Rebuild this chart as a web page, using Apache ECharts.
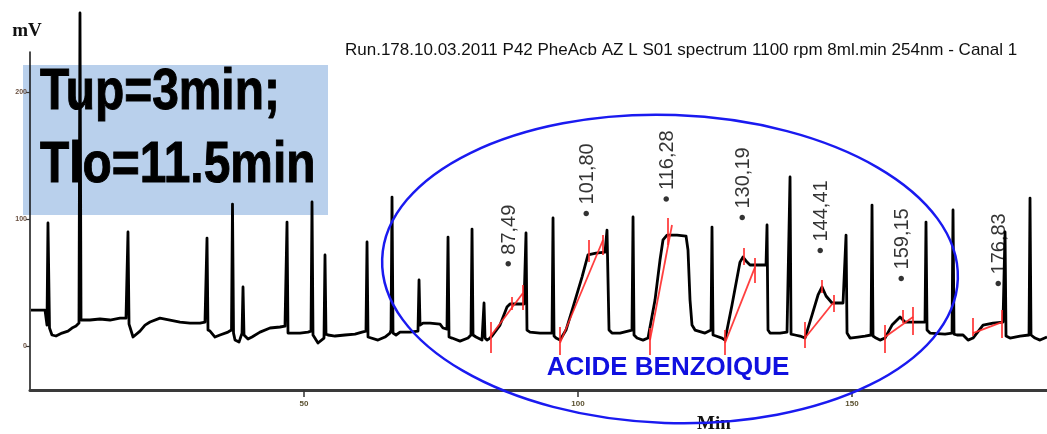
<!DOCTYPE html>
<html>
<head>
<meta charset="utf-8">
<script src="https://cdn.jsdelivr.net/npm/echarts@6/dist/echarts.min.js"></script>
<style>html,body{margin:0;padding:0;background:#fff}#c{width:1047px;height:434px}</style>
</head>
<body>
<div id="c"></div>
<script>
// Chromatogram trace: [time (min), signal (mV)]
const trace = [
[0.18,28.3],[2.74,28.3],[3.10,16.5],[3.28,96.9],[3.56,14.2],[4.01,8.7],[4.74,7.9],[5.84,10.2],[6.93,11.8],[7.66,14.2],[8.39,15.7],[8.94,18.1],
[9.12,262.2],[9.31,20.5],[9.67,22.0],[10.95,20.5],[12.77,21.3],[14.60,20.5],[16.42,22.0],[17.52,22.0],[17.88,89.8],[18.07,17.3],[18.80,7.1],
[20.07,11.8],[20.99,16.5],[21.90,18.9],[23.72,22.0],[25.55,20.5],[27.37,18.9],[29.20,18.1],[31.02,18.1],[31.93,18.9],[32.30,85.0],[32.48,12.6],
[32.85,11.8],[33.76,7.1],[34.67,8.7],[36.13,11.0],[36.77,12.6],[36.95,111.8],[37.14,10.2],[37.41,4.7],[38.14,3.1],[38.69,10.2],[38.87,46.5],[39.05,8.7],
[39.78,5.5],[40.51,7.1],[41.97,11.0],[43.80,14.2],[45.62,15.0],[46.53,15.7],[46.90,97.6],[47.08,10.2],[47.81,10.2],[49.27,10.2],[50.73,11.0],[51.28,11.8],
[51.46,113.4],[51.64,8.7],[52.55,2.4],[53.65,6.3],[53.83,71.7],[54.01,9.4],[54.38,8.7],[55.66,7.9],[57.48,8.7],[59.31,9.4],[60.58,11.0],[61.31,11.8],
[61.50,81.9],[61.68,7.1],[62.04,7.1],[63.50,4.7],[64.78,7.1],[65.69,10.2],[65.88,12.6],[66.06,117.3],[66.24,10.2],[66.79,8.7],[67.52,11.0],[69.34,11.0],
[70.80,11.8],[70.99,52.0],[71.17,16.5],[71.72,18.1],[73.00,18.1],[74.82,17.3],[75.36,14.2],[76.09,13.4],[76.28,85.8],[76.46,7.1],[77.01,6.3],[78.47,3.9],
[79.93,6.3],[80.47,8.7],[80.66,92.1],[80.84,8.7],[81.39,7.1],[82.48,4.7],[82.85,33.9],[83.03,6.3],[83.39,4.7],[83.94,6.3],[84.31,7.9],
[85.77,16.5],[87.04,30.7],[87.59,33.1],[88.87,33.1],[90.15,33.1],[90.33,33.1],[90.51,89.0],[90.69,12.6],[91.24,11.0],[93.07,10.2],[94.53,10.2],[95.26,10.2],
[95.44,100.8],[95.62,7.9],[95.99,6.3],[96.72,4.7],[97.81,12.6],[99.09,30.7],[100.73,54.3],[101.82,71.7],[103.28,73.2],[104.93,74.0],[105.11,74.0],
[105.29,91.3],[105.66,12.6],[106.20,10.2],[107.66,10.2],[109.12,11.8],[109.85,12.6],[110.04,101.6],[110.22,8.7],[110.77,6.3],[111.86,4.7],[112.77,6.3],
[114.05,36.2],[114.96,67.7],[115.51,83.5],[116.24,87.4],[118.07,87.4],[119.71,86.6],[120.07,75.6],[120.44,36.2],[120.80,16.5],[121.35,12.6],[123.18,10.2],
[124.27,12.6],[124.45,93.7],[124.64,8.7],[125.18,7.9],[126.28,6.3],[126.82,4.7],[128.10,32.3],[129.56,66.1],[130.11,70.1],[130.84,66.1],[131.39,63.8],
[133.21,63.8],[134.31,63.8],[134.49,95.3],[134.67,12.6],[135.04,10.2],[136.86,10.2],[138.14,11.0],[138.69,133.1],[138.87,9.4],[139.60,8.7],[140.51,7.9],
[141.42,6.3],[142.70,24.4],[143.80,40.2],[144.53,46.5],[145.26,39.4],[146.35,33.9],[148.36,33.9],[148.72,33.9],[148.91,87.4],[149.09,10.2],[149.64,6.3],
[151.09,7.1],[152.37,7.9],[153.47,8.7],[153.65,111.0],[153.83,7.9],[154.38,6.3],[155.11,4.7],[156.02,6.3],[157.30,16.5],[158.76,22.8],[159.67,18.9],
[161.50,18.9],[163.32,18.9],[163.50,97.6],[163.69,12.6],[164.23,10.2],[166.97,9.4],[168.25,10.2],[168.43,107.1],[168.61,9.4],[169.16,8.7],[170.26,8.7],
[171.17,4.7],[172.08,6.3],[173.91,16.5],[175.73,18.1],[177.55,18.9],[177.74,18.9],[177.92,89.8],[178.10,7.9],[178.83,6.3],[180.66,7.9],[182.30,8.7],
[182.48,116.5],[182.66,8.7],[183.39,6.3],[184.31,4.7],[185.58,7.1]
];

// Integration baselines (red): [[t1,v1],[t2,v2]]
const baselines = [
[[83.94,7.1],[89.96,41.7]],
[[96.72,2.4],[104.56,83.5]],
[[113.14,4.7],[117.15,95.3]],
[[126.82,2.4],[132.30,62.2]],
[[141.42,6.3],[146.53,33.9]],
[[156.02,7.1],[161.13,22.8]],
[[172.08,10.2],[177.37,18.9]]
];
// Integration tick marks (red): [time, vTop, vBottom]
const marks = [
[84.12,18.9,-5.5],[87.96,38.6,28.3],[89.96,48.0,28.3],
[96.72,15.0,-7.1],[102.01,83.5,66.1],[104.56,87.4,71.7],
[113.14,14.2,-7.1],[116.42,100.8,79.5],
[126.82,12.6,-7.1],[130.29,77.2,63.8],[132.30,69.3,49.6],
[141.42,18.9,-1.6],[144.53,52.0,41.7],[146.71,40.2,26.8],
[156.02,16.5,-5.5],[159.31,28.3,18.1],[161.13,30.7,8.7],
[172.08,22.0,7.9],[177.37,28.3,6.3]
];

// Peak retention-time annotations
const peakTimes = [87.49,101.80,116.28,130.19,144.41,159.15,176.83];
const peakLabels = ['87,49','101,80','116,28','130,19','144,41','159,15','176,83'];
const peakLabelHeights = [62,101.6,113,98.4,72.4,50.4,46.5];

const xTicks = [50,100,150];
const yTicks = [0,100,200];

const chart = echarts.init(document.getElementById('c'), null, {renderer:'canvas'});

const redLines = baselines.map(c => ({coords:c}));
marks.forEach(m => redLines.push({coords:[[m[0],m[1]],[m[0],m[2]]]}));

const bigFont = 'bold 57px "Liberation Sans", Arial, sans-serif';

chart.setOption({
  animation:false,
  backgroundColor:'#fff',
  grid:{left:30,right:0,top:52,bottom:44},
  xAxis:{
    type:'value', min:0, max:185.58,
    axisLine:{show:true,onZero:false,lineStyle:{color:'#3a3a3a',width:3}},
    axisTick:{show:true,customValues:xTicks,length:7,lineStyle:{color:'#333',width:1.5}},
    axisLabel:{show:true,customValues:xTicks,fontSize:8,color:'#5a5030',margin:10,fontWeight:'bold'},
    splitLine:{show:false}
  },
  yAxis:{
    type:'value', min:-34.6, max:231.5,
    axisLine:{show:true,onZero:false,lineStyle:{color:'#111',width:1.5}},
    axisTick:{show:true,customValues:yTicks,length:4,lineStyle:{color:'#333',width:1.2}},
    axisLabel:{show:true,customValues:yTicks,fontSize:7,color:'#6a5040',margin:3,fontWeight:'bold'},
    splitLine:{show:false}
  },
  graphic:[
    {type:'rect',z:-1,shape:{x:23,y:65,width:305,height:150},style:{fill:'#b9d0ec'}},
    {type:'text',z:1,x:40,y:93,scaleX:0.84,style:{text:'Tup=3min;',font:bigFont,fill:'#000',stroke:'#000',lineWidth:1,verticalAlign:'middle',textVerticalAlign:'middle'}},
    {type:'text',z:1,x:40,y:166,scaleX:0.84,style:{text:'Tlo=11.5min',font:bigFont,fill:'#000',stroke:'#000',lineWidth:1,verticalAlign:'middle',textVerticalAlign:'middle'}},
    {type:'text',z:10,x:345,y:50,style:{text:'Run.178.10.03.2011 P42 PheAcb AZ L S01 spectrum 1100 rpm 8ml.min 254nm - Canal 1',font:'17px "Liberation Sans", Arial, sans-serif',fill:'#111',verticalAlign:'middle',textVerticalAlign:'middle'}},
    {type:'text',z:10,x:27,y:31,style:{text:'mV',font:'bold 19px "Liberation Serif", serif',fill:'#111',align:'center',textAlign:'center',verticalAlign:'middle',textVerticalAlign:'middle'}},
    {type:'text',z:10,x:714,y:424,style:{text:'Min',font:'bold 19px "Liberation Serif", serif',fill:'#111',align:'center',textAlign:'center',verticalAlign:'middle',textVerticalAlign:'middle'}},
    {type:'ellipse',z:20,x:670,y:269,rotation:-0.035,shape:{cx:0,cy:0,rx:288,ry:154},style:{fill:null,stroke:'#1a1af0',lineWidth:2.5}},
    {type:'text',z:20,x:668,y:368,style:{text:'ACIDE BENZOIQUE',font:'bold 26px "Liberation Sans", Arial, sans-serif',fill:'#1010e0',align:'center',textAlign:'center',verticalAlign:'middle',textVerticalAlign:'middle'}}
  ],
  series:[
    {type:'line',data:trace,showSymbol:false,symbol:'none',clip:false,z:3,
     lineStyle:{color:'#000',width:2.8,join:'round'}},
    {type:'lines',coordinateSystem:'cartesian2d',data:redLines,z:4,
     lineStyle:{color:'#ff2a2a',width:1.8,opacity:0.9}},
    {type:'scatter',symbolSize:0,z:5,
     data:peakTimes.map((t,i)=>({value:[t,peakLabelHeights[i]],name:peakLabels[i]})),
     label:{show:true,position:'inside',rotate:90,align:'left',verticalAlign:'middle',
       formatter:p=>'\u2022 '+p.name,fontSize:20,color:'#000',fontFamily:'"Liberation Sans", Arial, sans-serif'}}
  ]
});
</script>
</body>
</html>
